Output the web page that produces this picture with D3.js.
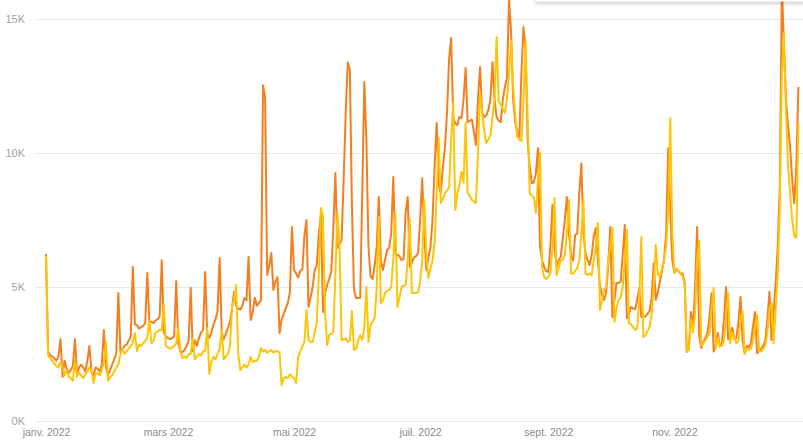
<!DOCTYPE html>
<html>
<head>
<meta charset="utf-8">
<script src="https://cdn.jsdelivr.net/npm/d3@7"></script>
<style>
    html, body { margin: 0; padding: 0; background: #fff; }
    svg { display: block; font-family: "Open Sans", "Noto Sans", sans-serif; }
</style>
</head>
<body>
<svg id="chart" width="803" height="440"></svg>
<script>
// daily values, 1 Jan 2022 .. 31 Dec 2022 (one row per week)
var startDate = "2022-01-01";
var orangeValues = [
    6230, 2600, 2450, 2400, 2350, 2250, 2400,
    3060, 1650, 2250, 1950, 1800, 1900, 2050,
    3060, 1750, 2000, 2100, 2000, 1850, 2250,
    2800, 1850, 1700, 2000, 1950, 1850, 2100,
    3400, 2000, 1720, 1900, 2100, 2300, 2500,
    4780, 2600, 2700, 2800, 2850, 3000, 3150,
    5750, 3600, 3580, 3450, 3500, 3550, 3650,
    5520, 3700, 3700, 3650, 3750, 3800, 3900,
    6000, 3300, 3150, 3100, 3050, 3100, 3150,
    5220, 2900, 2600, 2570, 2650, 2800, 3000,
    4960, 2600, 3000, 2800, 3100, 3300, 3400,
    5560, 3250, 3100, 3300, 3600, 3800, 4100,
    6080, 3320, 3050, 3250, 3470, 3700, 4200,
    4810, 4300, 4200, 4150, 4300, 4590, 4500,
    6120, 3770, 4050, 4600, 4300, 4400, 4500,
    12530, 12050, 5450, 5800, 6270, 4890, 5200,
    5370, 3280, 3800, 4000, 4200, 4400, 4800,
    7240, 5630, 5500, 5350, 5600, 5650, 6900,
    7500, 4250, 4600, 5000, 5630, 5800, 7000,
    7700, 4070, 4800, 5070, 5300, 5560, 7200,
    9250, 6450, 6600, 6750, 9000, 11500, 13390,
    13100, 8000, 4900, 4590, 4590, 4600, 8500,
    12650, 10500, 6500, 5400, 5300, 5800, 6500,
    8360, 6000, 5630, 6000, 6380, 6450, 7000,
    9100, 6270, 6200, 6150, 6000, 6050, 7800,
    8360, 5750, 5900, 6100, 6150, 6270, 7500,
    9060, 7000, 5630, 6100, 6500, 7500, 9500,
    11120, 8800, 8500, 9480, 10220, 11500, 13500,
    14290, 11340, 11100, 11040, 11340, 11300, 12000,
    13170, 11150, 11200, 11250, 10800, 10300, 12000,
    13210, 11500, 11340, 11400, 11600, 12000, 13390,
    12000, 11340, 11200, 11150, 12000, 12460, 12800,
    15700, 14500, 12000, 11150, 10800, 10600, 13000,
    14700, 13840, 10500, 9500, 8880, 8900, 9240,
    10180, 6500, 6000, 5750, 5600, 5560, 6500,
    8060, 6500, 5750, 6000, 6120, 6800, 7500,
    8360, 7000, 6200, 5990, 6940, 7000, 8500,
    9620, 7000, 6250, 6000, 5820, 6200, 6900,
    7200, 6000, 5000, 4700, 4520, 4800, 5800,
    7240, 3880, 4500, 5150, 5150, 5190, 6200,
    7310, 3840, 4000, 4250, 4200, 4180, 4500,
    4960, 3880, 3880, 3900, 4000, 4100, 4600,
    5890, 4520, 4800, 5200, 5600, 6000, 7000,
    10180, 7870, 6000, 5520, 5680, 5600, 5500,
    5500, 5150, 2580, 2700, 4070, 3400, 5000,
    7240, 3200, 2720, 2950, 3100, 3280, 3900,
    4770, 2590, 2800, 3280, 2780, 2900, 3800,
    5000, 3050, 3300, 3480, 3050, 3100, 3700,
    4630, 3000, 2530, 2800, 2750, 2900, 3500,
    4070, 2530, 2600, 2700, 2800, 3000, 3800,
    4820, 3020, 4000, 5150, 6500, 8730, 16200,
    14000, 11980, 11000, 10220, 9000, 8130, 9500,
    12460
];
var yellowValues = [
    6150, 2450, 2350, 2250, 2150, 2050, 2000,
    2200, 2000, 1700, 1900, 1650, 1600, 1500,
    2300, 1650, 1800, 1700, 1600, 1750, 1850,
    2000, 1900, 1420, 1750, 1800, 1700, 1900,
    2200, 2950, 1500, 1650, 1700, 1850, 2000,
    2100, 2500, 2700, 2500, 2600, 2700, 2800,
    2900, 3280, 2600, 2850, 2800, 2900, 3000,
    3100, 3770, 2900, 3000, 3300, 3350, 3400,
    3400, 4330, 2800, 2750, 2700, 2750, 2800,
    2900, 3470, 2600, 2350, 2400, 2350, 2500,
    2500, 3100, 2300, 2400, 2500, 2450, 2600,
    2600, 3470, 1750, 2200, 2400, 2300, 2500,
    2700, 3400, 2300, 2400, 2500, 2800, 4300,
    4500, 5070, 2500, 1900, 2000, 2100, 2000,
    2100, 2390, 2200, 2250, 2250, 2400, 2720,
    2600, 2650, 2550, 2600, 2650, 2550, 2600,
    2600, 2550, 1340, 1600, 1640, 1600, 1750,
    1650, 1600, 1420, 2390, 2600, 2760, 2950,
    4140, 3020, 2950, 2950, 3300, 3660, 5500,
    7950, 7640, 4070, 2830, 3200, 3250, 3320,
    5500, 7760, 6520, 3020, 3050, 3080, 2950,
    3000, 4100, 2650, 2700, 3000, 3200, 3020,
    3500, 5000, 2950, 3560, 3700, 3840, 5000,
    7610, 4400, 4500, 4780, 4850, 4890, 5000,
    6000, 7760, 4250, 4600, 5000, 5050, 5070,
    6000, 7570, 4780, 4780, 4780, 4800, 5200,
    6000, 8250, 6200, 5330, 5700, 6000, 6640,
    8500, 10560, 8130, 8300, 8500, 8600, 8700,
    10500, 11860, 7870, 8500, 8800, 9290, 8900,
    11120, 8500, 8400, 8250, 8200, 8130, 10000,
    12240, 11500, 10800, 10370, 10500, 10670, 11340,
    12000, 14330, 11900, 11800, 11650, 11500, 12000,
    13000, 14200, 12500, 11400, 10600, 10500, 10450,
    12000, 14200, 11340, 8500, 8400, 8350, 7760,
    9000, 10000, 5750, 5370, 5300, 5370, 5500,
    6500, 8320, 5440, 5700, 6000, 6000, 6200,
    7000, 8250, 5500, 5500, 5600, 5700, 6000,
    7000, 8250, 5500, 5450, 5500, 5440, 6000,
    6500, 7390, 4140, 4500, 4890, 5000, 6000,
    6500, 7200, 3700, 4200, 4520, 4600, 5000,
    6000, 7130, 3660, 3600, 3510, 3400, 3450,
    4500, 6870, 3130, 3200, 3360, 3500, 4000,
    5000, 6570, 5440, 5400, 5700, 6000, 6500,
    7800, 11300, 7000, 5520, 5650, 5600, 5500,
    5400, 5100, 2600, 2650, 3800, 3300, 4000,
    6000, 6730, 2800, 2900, 3000, 3150, 3300,
    4200, 4960, 2700, 3100, 2800, 2800, 3000,
    4000, 4770, 2900, 3300, 3100, 2900, 3000,
    3800, 4100, 2500, 2700, 2650, 2700, 3000,
    3500, 3960, 2600, 2600, 2700, 2800, 3300,
    4200, 4400, 2900, 4200, 5500, 8000, 13000,
    14480, 11500, 9500, 8500, 7500, 6900, 6830,
    11120
];
var yTicks = [0, 5000, 10000, 15000];
var xTickDates = ["2022-01-01", "2022-03-01", "2022-05-01", "2022-07-01", "2022-09-01", "2022-11-01"];

var width = 803, height = 440;
var svg = d3.select("#chart");
var parse = d3.timeParse("%Y-%m-%d");

var fr = d3.timeFormatLocale({
    dateTime: "%A %e %B %Y à %X", date: "%d/%m/%Y", time: "%H:%M:%S",
    periods: ["AM", "PM"],
    days: ["dimanche", "lundi", "mardi", "mercredi", "jeudi", "vendredi", "samedi"],
    shortDays: ["dim.", "lun.", "mar.", "mer.", "jeu.", "ven.", "sam."],
    months: ["janvier", "février", "mars", "avril", "mai", "juin", "juillet", "août", "septembre", "octobre", "novembre", "décembre"],
    shortMonths: ["janv.", "févr.", "mars", "avr.", "mai", "juin", "juil.", "août", "sept.", "oct.", "nov.", "déc."]
});

var day0 = parse(startDate);
function toPoints(values) {
    return values.map(function (v, i) { return { date: d3.timeDay.offset(day0, i), value: v }; });
}

var x = d3.scaleTime()
    .domain([day0, d3.timeDay.offset(day0, 364)])
    .range([46, 798.4]);
var y = d3.scaleLinear().domain([0, 15000]).range([421, 19]);

// y gridlines + labels
var yAxis = svg.append("g")
    .attr("transform", "translate(36,0)")
    .call(d3.axisLeft(y).tickValues(yTicks).tickSize(-(width - 36)).tickPadding(11)
        .tickFormat(function (d) { return (d / 1000) + "K"; }));
yAxis.select(".domain").remove();
yAxis.selectAll("line").attr("stroke", "#e9e9e9").attr("stroke-width", 1);
yAxis.selectAll("text").attr("fill", "#a3a3a3").style("font-size", "11px");

// x labels
var xAxis = svg.append("g")
    .attr("transform", "translate(0,421)")
    .call(d3.axisBottom(x).tickValues(xTickDates.map(parse)).tickSize(0).tickPadding(8)
        .tickFormat(fr.format("%b %Y")));
xAxis.select(".domain").remove();
xAxis.selectAll("text").attr("fill", "#8c8c8c").style("font-size", "10.5px");

var line = d3.line()
    .x(function (d) { return x(d.date); })
    .y(function (d) { return y(d.value); });

svg.append("path")
    .datum(toPoints(orangeValues))
    .attr("fill", "none")
    .attr("stroke", "#f57e1f")
    .attr("stroke-width", 2)
    .attr("stroke-linejoin", "round")
    .attr("d", line);

svg.append("path")
    .datum(toPoints(yellowValues))
    .attr("fill", "none")
    .attr("stroke", "#fdc508")
    .attr("stroke-width", 2)
    .attr("stroke-linejoin", "round")
    .attr("d", line);

// tooltip card cut off at the top edge
var defs = svg.append("defs");
var f = defs.append("filter").attr("id", "shadow")
    .attr("x", "-10%").attr("y", "-50%").attr("width", "120%").attr("height", "200%");
f.append("feDropShadow").attr("dx", 0).attr("dy", 1.5).attr("stdDeviation", 2)
    .attr("flood-color", "#000").attr("flood-opacity", 0.25);
svg.append("rect")
    .attr("x", 535).attr("y", -30).attr("width", 300).attr("height", 31.5)
    .attr("fill", "#fff").attr("filter", "url(#shadow)");
</script>
</body>
</html>
